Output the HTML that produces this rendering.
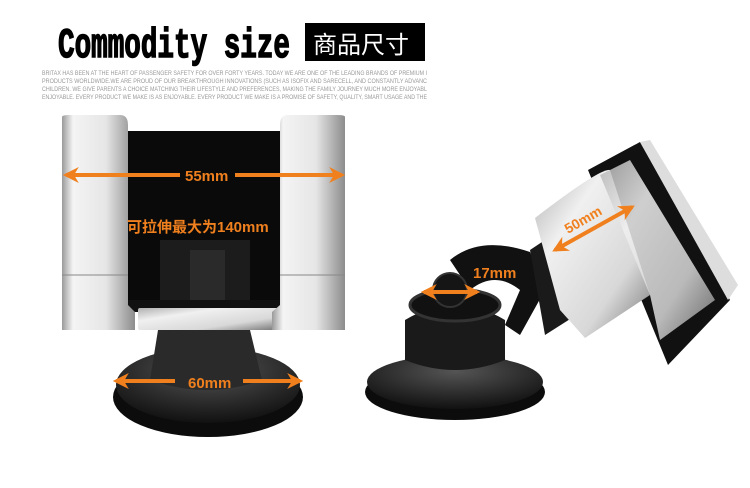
<!DOCTYPE html>
<html><head><meta charset="utf-8"><style>
body{margin:0;background:#fff;width:750px;height:483px;overflow:hidden;font-family:"Liberation Sans","Noto Sans CJK SC",sans-serif}
</style></head><body>
<svg width="750" height="483" viewBox="0 0 750 483" xmlns="http://www.w3.org/2000/svg">
<defs>
<linearGradient id="chr" x1="0" x2="1"><stop offset="0" stop-color="#9a9a9a"/><stop offset=".15" stop-color="#f4f4f4"/><stop offset=".6" stop-color="#e6e6e6"/><stop offset="1" stop-color="#8c8c8c"/></linearGradient>
<linearGradient id="chr2" x1="0" x2="1" y1="0" y2="1"><stop offset="0" stop-color="#b0b0b0"/><stop offset=".3" stop-color="#f0f0f0"/><stop offset=".7" stop-color="#d8d8d8"/><stop offset="1" stop-color="#777"/></linearGradient>
<radialGradient id="blk" cx=".5" cy=".3" r=".7"><stop offset="0" stop-color="#555"/><stop offset="1" stop-color="#111"/></radialGradient>
<marker id="ah" viewBox="0 0 10 10" refX="8" refY="5" markerWidth="4" markerHeight="4" orient="auto-start-reverse"><path d="M0,0 L10,5 L0,10 L3,5z" fill="#f0801e"/></marker>
</defs>
<!-- header -->
<text x="58" y="57" font-family="Liberation Mono,monospace" font-weight="bold" font-size="42" fill="#000" stroke="#000" stroke-width="1.5" textLength="232" lengthAdjust="spacingAndGlyphs" style="paint-order:stroke">Commodity size</text>
<g font-size="6" fill="#999" font-family="Liberation Sans,sans-serif">
<text x="42" y="75" textLength="385" lengthAdjust="spacingAndGlyphs">BRITAX HAS BEEN AT THE HEART OF PASSENGER SAFETY FOR OVER FORTY YEARS. TODAY WE ARE ONE OF THE LEADING BRANDS OF PREMIUM I</text>
<text x="42" y="83" textLength="385" lengthAdjust="spacingAndGlyphs">PRODUCTS WORLDWIDE.WE ARE PROUD OF OUR BREAKTHROUGH INNOVATIONS (SUCH AS ISOFIX AND SARECELL, AND CONSTANTLY ADVANC</text>
<text x="42" y="91" textLength="385" lengthAdjust="spacingAndGlyphs">CHILDREN. WE GIVE PARENTS A CHOICE MATCHING THEIR LIFESTYLE AND PREFERENCES, MAKING THE FAMILY JOURNEY MUCH MORE ENJOYABL</text>
<text x="42" y="99" textLength="385" lengthAdjust="spacingAndGlyphs">ENJOYABLE. EVERY PRODUCT WE MAKE IS AS ENJOYABLE. EVERY PRODUCT WE MAKE IS A PROMISE OF SAFETY, QUALITY, SMART USAGE AND THE</text>
</g>
<rect x="305" y="23" width="120" height="38" fill="#000"/>
<text x="313" y="53" font-size="24" fill="#fff" font-family="'Noto Sans CJK SC',sans-serif">商品尺寸</text>
<!-- left product -->
<ellipse cx="208" cy="397" rx="95" ry="40" fill="#0c0c0c"/>
<ellipse cx="208" cy="385" rx="92" ry="38" fill="url(#blk)"/>
<path d="M158,330 L250,330 L262,380 Q208,400 150,380z" fill="#2a2a2a"/>
<rect x="128" y="131" width="152" height="180" fill="#0a0a0a"/>
<rect x="160" y="240" width="90" height="70" fill="#1c1c1c"/>
<rect x="190" y="250" width="35" height="55" fill="#2a2a2a"/>
<rect x="128" y="300" width="152" height="12" fill="#111"/>
<rect x="138" y="308" width="140" height="22" rx="2" fill="url(#chr2)"/>
<path d="M62,117 Q62,115 70,115 L120,115 Q128,115 128,125 L128,305 L135,312 L135,330 L62,330z" fill="url(#chr)"/>
<path d="M345,117 Q345,115 337,115 L288,115 Q280,115 280,125 L280,305 L272,312 L272,330 L345,330z" fill="url(#chr)"/>
<line x1="62" y1="275" x2="128" y2="275" stroke="#888"/>
<line x1="280" y1="275" x2="345" y2="275" stroke="#888"/>
<!-- right product -->
<ellipse cx="455" cy="392" rx="90" ry="28" fill="#0c0c0c"/>
<ellipse cx="455" cy="382" rx="88" ry="27" fill="url(#blk)"/>
<path d="M405,320 Q455,290 505,320 L505,360 Q455,380 405,360z" fill="#1a1a1a"/>
<ellipse cx="455" cy="305" rx="45" ry="16" fill="#111" stroke="#333" stroke-width="3"/>
<path d="M450,260 Q480,235 530,252 L545,290 L520,335 L505,325 L520,290 Q495,270 470,290z" fill="#111"/>
<path d="M530,250 L560,230 L600,300 L545,335z" fill="#1a1a1a"/>
<circle cx="450" cy="290" r="17" fill="#151515" stroke="#333" stroke-width="2"/>
<path d="M588,170 L640,142 L730,300 L668,365 Z" fill="#111"/>
<path d="M640,142 L650,140 L738,285 L728,300z" fill="#ddd"/>
<path d="M535,218 Q600,168 610,170 L650,295 L585,338 L560,310 Z" fill="url(#chr2)"/>
<path d="M600,175 L630,160 L715,300 L660,340 L650,295z" fill="url(#chr2)" opacity=".85"/>
<!-- arrows -->
<g stroke="#f0801e" stroke-width="4" fill="none" marker-start="url(#ah)" marker-end="url(#ah)">
<line x1="66" y1="175" x2="180" y2="175" marker-end="none"/>
<line x1="235" y1="175" x2="342" y2="175" marker-start="none"/>
<line x1="116" y1="381" x2="175" y2="381" marker-end="none"/>
<line x1="243" y1="381" x2="300" y2="381" marker-start="none"/>
<line x1="424" y1="292" x2="477" y2="292"/>
<line x1="555" y1="250" x2="632" y2="207"/>
</g>
<g fill="#f0801e" font-weight="bold" font-family="Liberation Sans,'Noto Sans CJK SC',sans-serif">
<text x="185" y="181" font-size="15">55mm</text>
<text x="188" y="388" font-size="15">60mm</text>
<text x="127" y="232" font-size="15">可拉伸最大为140mm</text>
<text x="473" y="278" font-size="15">17mm</text>
<text x="568" y="234" font-size="14" transform="rotate(-30 568 234)">50mm</text>
</g>
</svg>
</body></html>
